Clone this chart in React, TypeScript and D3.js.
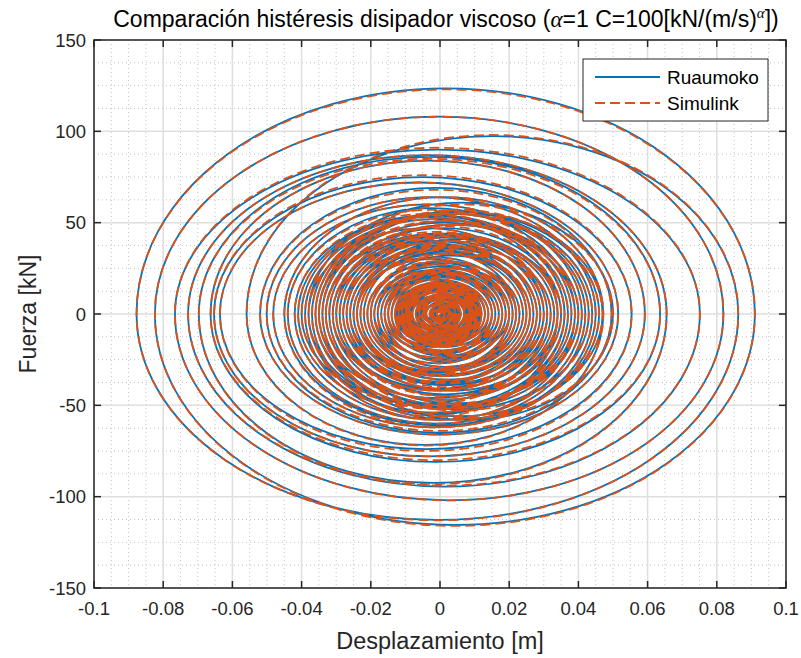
import React from 'react';
import * as d3 from 'd3';

// tick values / labels
const xTicks = [-0.1, -0.08, -0.06, -0.04, -0.02, 0, 0.02, 0.04, 0.06, 0.08, 0.1];
const xTickLabels = ['-0.1', '-0.08', '-0.06', '-0.04', '-0.02', '0', '0.02', '0.04', '0.06', '0.08', '0.1'];
const yTicks = [-150, -100, -50, 0, 50, 100, 150];
const yTickLabels = ['-150', '-100', '-50', '0', '50', '100', '150'];

// displacement turning points of each cycle [m] (left, then right)
const cycleLeft = [
  -0.004, -0.007, -0.012, -0.015, -0.014, -0.021, -0.026, -0.024, -0.033, -0.040, -0.036, -0.045,
  -0.0559, -0.0877, -0.0824, -0.0766, -0.0728, -0.0697, -0.0663, -0.0653, -0.0636, -0.052, -0.0501,
  -0.0482, -0.042, -0.038, -0.031, -0.028, -0.024,
  -0.020, -0.027, -0.030, -0.035, -0.038, -0.034, -0.036, -0.032, -0.033, -0.029, -0.027, -0.025,
  -0.023, -0.020, -0.019, -0.017, -0.015, -0.014, -0.012, -0.011, -0.0095,
  -0.015, -0.024, -0.030, -0.022, -0.035, -0.041, -0.037, -0.044, -0.039, -0.034, -0.031, -0.028,
  -0.033, -0.026, -0.023, -0.024, -0.018, -0.021, -0.016, -0.019, -0.013, -0.016, -0.010, -0.013,
  -0.012, -0.016, -0.018, -0.014, -0.011, -0.009, -0.007, -0.006, -0.0045, -0.003, -0.002, -0.001,
  -0.003, -0.006, -0.009, -0.011, -0.013, -0.010, -0.012, -0.008, -0.010, -0.006, -0.008, -0.004,
  -0.005, -0.002, -0.001,
  -0.005, -0.007, -0.009, -0.0105, -0.012, -0.011, -0.0125, -0.010, -0.0115, -0.0085, -0.0095, -0.007,
  -0.008, -0.0055, -0.0065, -0.004, -0.0045, -0.0025, -0.003, -0.0015,
];
const cycleRight = [
  0.005, 0.009, 0.010, 0.016, 0.022, 0.020, 0.028, 0.035, 0.031, 0.038, 0.044, 0.0472,
  0.0862, 0.0910, 0.0819, 0.0751, 0.0655, 0.0636, 0.0592, 0.0554, 0.0515, 0.0496, 0.045,
  0.041, 0.036, 0.030, 0.027, 0.022, 0.019,
  0.026, 0.033, 0.040, 0.046, 0.050, 0.047, 0.043, 0.039, 0.035, 0.034, 0.030, 0.026,
  0.024, 0.022, 0.019, 0.018, 0.016, 0.015, 0.013, 0.012, 0.0105,
  0.020, 0.028, 0.025, 0.032, 0.037, 0.034, 0.042, 0.039, 0.036, 0.040, 0.031, 0.034,
  0.029, 0.028, 0.025, 0.021, 0.023, 0.018, 0.020, 0.015, 0.017, 0.012, 0.014, 0.0095,
  0.014, 0.017, 0.015, 0.013, 0.010, 0.0085, 0.0075, 0.0055, 0.0045, 0.003, 0.0015, 0.0005,
  0.004, 0.007, 0.010, 0.012, 0.011, 0.013, 0.009, 0.011, 0.007, 0.009, 0.005, 0.006,
  0.003, 0.0025, 0.001,
  0.006, 0.008, 0.0095, 0.0115, 0.0105, 0.012, 0.0095, 0.011, 0.0085, 0.010, 0.0075, 0.0085,
  0.006, 0.007, 0.0045, 0.0055, 0.003, 0.0035, 0.002, 0.001,
];

// peak force of each half cycle [kN]
const ruaumokoTop = [
  6, 11, 15, 21, 25, 28, 37, 41, 44, 54, 56, 64,
  97.4, 123.6, 108, 90, 87, 86, 84, 75, 72, 69, 64,
  60, 54, 47, 40, 35, 30,
  32, 42, 49, 56, 61, 56, 55, 49, 47, 44, 40, 35,
  33, 29, 26, 24, 22, 20, 17, 16, 14,
  25, 36, 39, 37, 50, 53, 55, 58, 52, 51, 43, 43,
  43, 38, 34, 31, 28, 27, 25, 24, 21, 19, 17, 16,
  18, 23, 23, 19, 14, 12, 10, 8, 6, 4, 2.5, 1,
  5, 9, 13, 16, 17, 16, 15, 13, 12, 10, 9, 7,
  5, 3, 1.5,
  8, 10, 13, 15, 16, 16, 15, 15, 14, 13, 12, 11,
  10, 9, 8, 7, 5, 4, 3.5, 2,
];
const ruaumokoBottom = [
  -3, -8, -15, -17, -21, -30, -32, -36, -47, -49, -51, -61,
  -71.7, -112.8, -115.5, -102, -94.5, -92.5, -81, -78, -74, -66, -65,
  -62, -58, -51, -42, -38, -32,
  -27, -37, -44, -52, -58, -58, -56, -52, -50, -45, -42, -38,
  -34, -31, -29, -25, -23, -21, -18, -17, -15,
  -18, -31, -41, -33, -46, -54, -55, -60, -58, -52, -49, -41,
  -47, -39, -36, -34, -29, -31, -26, -24, -22, -21, -18, -17,
  -15, -21, -24, -20, -17, -13, -11, -9, -7, -5, -3, -1.5,
  -3, -7, -11, -15, -17, -15, -17, -12, -13, -9, -10, -6,
  -6, -3, -1.5,
  -4, -9, -12, -14, -16, -15, -17, -14, -16, -12, -14, -10,
  -12, -8, -9, -6, -7, -4, -4.5, -2.5,
];
const simulinkTop = [
  6, 11, 15, 22, 25, 29, 37, 40, 45, 54, 55, 64,
  98, 123, 108, 91, 87, 85, 84, 76, 72, 68, 64,
  60, 55, 47, 41, 35, 30,
  33, 42, 49, 57, 60, 56, 55, 49, 48, 44, 40, 36,
  33, 29, 27, 24, 22, 20, 17, 16, 14,
  25, 37, 39, 37, 51, 53, 55, 57, 52, 51, 44, 43,
  43, 38, 35, 31, 28, 27, 25, 24, 21, 19, 17, 16,
  18, 23, 23, 19, 14, 12, 10, 8, 6, 4, 2.5, 1,
  5, 9, 13, 16, 17, 16, 15, 13, 12, 10, 9, 7,
  5, 3, 1.5,
  8, 10, 13, 15, 16, 16, 15, 15, 14, 13, 12, 11,
  10, 9, 8, 7, 5, 4, 3.5, 2,
];
const simulinkBottom = [
  -3, -8, -14, -17, -21, -30, -33, -36, -47, -50, -51, -62,
  -72, -113, -116, -102, -94, -93, -80, -78, -75, -66, -64,
  -62, -58, -52, -42, -38, -33,
  -27, -37, -45, -52, -58, -57, -56, -53, -50, -45, -42, -38,
  -34, -31, -29, -25, -23, -20, -18, -17, -15,
  -18, -31, -42, -33, -46, -54, -56, -60, -58, -52, -49, -41,
  -47, -40, -36, -34, -29, -31, -26, -24, -22, -21, -18, -17,
  -15, -21, -24, -20, -17, -13, -11, -9, -7, -5, -3, -1.5,
  -3, -7, -11, -15, -17, -15, -17, -12, -13, -9, -10, -6,
  -6, -3, -1.5,
  -4, -9, -12, -14, -16, -15, -17, -14, -16, -12, -14, -10,
  -12, -8, -9, -6, -7, -4, -4.5, -2.5,
];

const W = 801;
const H = 658;
const plot = { left: 94, right: 786, top: 40, bottom: 588 };
const axisColor = '#262626';
const font = '"Liberation Sans", Arial, Helvetica, sans-serif';
const serif = '"Liberation Serif", "DejaVu Serif", serif';
const lineW = 1.8;
const dash = '10 5';

const x = d3.scaleLinear().domain([-0.1, 0.1]).range([plot.left, plot.right]);
const y = d3.scaleLinear().domain([-150, 150]).range([plot.bottom, plot.top]);

// each half cycle drawn as half an ellipse between two turning points
function hysteresisPath(top: number[], bottom: number[]) {
  let d = `M${x(0)},${y(0)}`;
  let cur = 0;
  cycleLeft.forEach((L, i) => {
    const R = cycleRight[i];
    const rxB = Math.abs(x(cur) - x(L)) / 2;
    const ryB = Math.abs(y(bottom[i]) - y(0));
    d += `A${rxB},${ryB} 0 0 1 ${x(L)},${y(0)}`;
    const rxT = Math.abs(x(R) - x(L)) / 2;
    const ryT = Math.abs(y(top[i]) - y(0));
    d += `A${rxT},${ryT} 0 0 1 ${x(R)},${y(0)}`;
    cur = R;
  });
  return d;
}

export default function App() {
  const xMinor = d3.range(-0.1, 0.1001, 0.005).map((v) => +v.toFixed(4));
  const yMinor = d3.range(-150, 150.1, 12.5);

  return (
    <svg width={W} height={H} style={{ position: 'absolute', left: 0, top: 0, background: '#fff' }} fontFamily={font}>
      <rect x={0} y={0} width={W} height={H} fill="#fff" />
      <defs>
        <clipPath id="plotClip">
          <rect x={plot.left} y={plot.top} width={plot.right - plot.left} height={plot.bottom - plot.top} />
        </clipPath>
      </defs>

      {/* minor grid */}
      {xMinor.map((v, i) => (
        <line key={'xm' + i} x1={x(v)} x2={x(v)} y1={plot.top} y2={plot.bottom}
          stroke="#c4c4c4" strokeWidth={1} strokeDasharray="1 3" />
      ))}
      {yMinor.map((v, i) => (
        <line key={'ym' + i} x1={plot.left} x2={plot.right} y1={y(v)} y2={y(v)}
          stroke="#c4c4c4" strokeWidth={1} strokeDasharray="1 3" />
      ))}
      {/* major grid */}
      {xTicks.map((v, i) => (
        <line key={'xg' + i} x1={x(v)} x2={x(v)} y1={plot.top} y2={plot.bottom} stroke="#dfdfdf" strokeWidth={1.5} />
      ))}
      {yTicks.map((v, i) => (
        <line key={'yg' + i} x1={plot.left} x2={plot.right} y1={y(v)} y2={y(v)} stroke="#dfdfdf" strokeWidth={1.5} />
      ))}

      <g clipPath="url(#plotClip)">
        <path d={hysteresisPath(ruaumokoTop, ruaumokoBottom)} fill="none" stroke="#0072BD" strokeWidth={lineW} />
        <path d={hysteresisPath(simulinkTop, simulinkBottom)} fill="none" stroke="#D95319" strokeWidth={lineW}
          strokeDasharray={dash} />
      </g>

      {/* box and ticks */}
      <rect x={plot.left} y={plot.top} width={plot.right - plot.left} height={plot.bottom - plot.top}
        fill="none" stroke={axisColor} strokeWidth={1.5} />
      {xTicks.map((v, i) => (
        <g key={'xt' + i}>
          <line x1={x(v)} x2={x(v)} y1={plot.bottom} y2={plot.bottom - 7} stroke={axisColor} strokeWidth={1.5} />
          <line x1={x(v)} x2={x(v)} y1={plot.top} y2={plot.top + 7} stroke={axisColor} strokeWidth={1.5} />
          <text x={x(v)} y={plot.bottom + 27} textAnchor="middle" fontSize={18.5} fill={axisColor}>{xTickLabels[i]}</text>
        </g>
      ))}
      {yTicks.map((v, i) => (
        <g key={'yt' + i}>
          <line x1={plot.left} x2={plot.left + 7} y1={y(v)} y2={y(v)} stroke={axisColor} strokeWidth={1.5} />
          <line x1={plot.right} x2={plot.right - 7} y1={y(v)} y2={y(v)} stroke={axisColor} strokeWidth={1.5} />
          <text x={plot.left - 8} y={y(v) + 6.5} textAnchor="end" fontSize={18.5} fill={axisColor}>{yTickLabels[i]}</text>
        </g>
      ))}

      {/* axis labels */}
      <text x={(plot.left + plot.right) / 2} y={649} textAnchor="middle" fontSize={23.5} fill={axisColor}>Desplazamiento [m]</text>
      <text transform={`translate(36,${(plot.top + plot.bottom) / 2}) rotate(-90)`} textAnchor="middle" fontSize={23}
        fill={axisColor}>Fuerza [kN]</text>

      {/* title */}
      <text x={446} y={27} textAnchor="middle" fontSize={23} fill="#000">
        Comparación histéresis disipador viscoso (
        <tspan fontFamily={serif} fontStyle="italic">α</tspan>
        =1 C=100[kN/(m/s)
        <tspan fontFamily={serif} fontStyle="italic" fontSize={15} dy={-9}>α</tspan>
        <tspan dy={9}>])</tspan>
      </text>

      {/* legend */}
      <g>
        <rect x={583} y={59} width={185} height={62} fill="#fff" stroke={axisColor} strokeWidth={1} />
        <line x1={595} x2={660} y1={77} y2={77} stroke="#0072BD" strokeWidth={lineW} />
        <line x1={595} x2={660} y1={103} y2={103} stroke="#D95319" strokeWidth={lineW} strokeDasharray={dash} />
        <text x={667} y={84} fontSize={19} fill="#000">Ruaumoko</text>
        <text x={667} y={110} fontSize={19} fill="#000">Simulink</text>
      </g>
    </svg>
  );
}
